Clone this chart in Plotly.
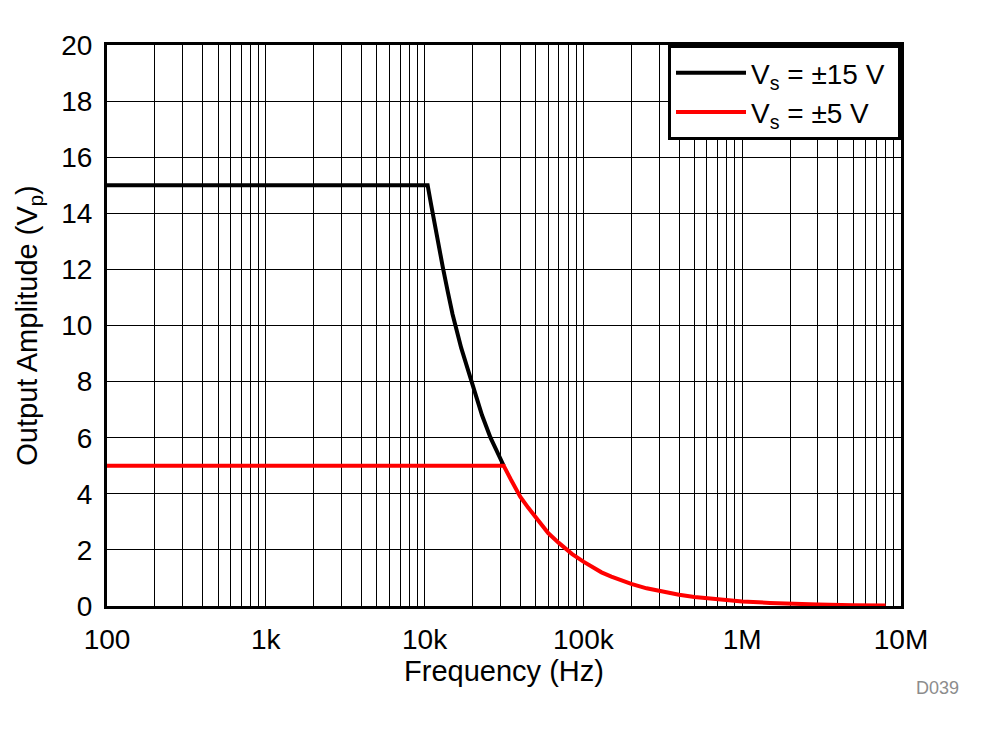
import plotly.graph_objects as go

# values
freq_15 = [100, 10450, 11000, 12000, 13000, 14000, 15000, 17000, 20000,
           23000, 26000, 29000, 31500]
amp_15 = [15, 15, 14.3, 13.1, 12.1, 11.2, 10.4, 9.2, 7.9, 6.8, 6.0, 5.4, 5.0]

freq_5 = [100, 31500, 35000, 40000, 45000, 50000, 60000, 70000, 85000, 100000,
          130000, 150000, 200000, 250000, 300000, 400000, 500000, 700000,
          1e6, 1.5e6, 2e6, 3e6, 5e6, 8e6]
amp_5 = [5, 5, 4.5, 3.9, 3.5, 3.15, 2.6, 2.25, 1.85, 1.58, 1.2, 1.05, 0.79,
         0.63, 0.53, 0.4, 0.32, 0.23, 0.16, 0.11, 0.08, 0.05, 0.03, 0.02]

x_tickvals = [100, 1e3, 1e4, 1e5, 1e6, 1e7]
x_ticktext = ["100", "1k", "10k", "100k", "1M", "10M"]
y_tickvals = list(range(0, 21, 2))

fig = go.Figure()
fig.add_trace(go.Scatter(x=freq_15, y=amp_15, mode="lines",
                         line=dict(color="black", width=4),
                         name="V<sub>s</sub> = ±15 V "))
fig.add_trace(go.Scatter(x=freq_5, y=amp_5, mode="lines",
                         line=dict(color="#ff0000", width=4),
                         name="V<sub>s</sub> = ±5 V"))

fig.update_layout(
    width=982, height=734,
    margin=dict(l=99, r=89, t=37, b=136, autoexpand=False),
    paper_bgcolor="white",
    plot_bgcolor="white",
    font=dict(family="Liberation Sans, Arial, sans-serif", size=24, color="black"),
    showlegend=True,
    legend=dict(x=1, y=1, xanchor="right", yanchor="top",
                bordercolor="black", borderwidth=3, bgcolor="white",
                font=dict(size=28), itemwidth=70, tracegroupgap=0),
    annotations=[dict(text="D039", x=1.075, y=-0.147, xref="paper", yref="paper",
                      xanchor="right", yanchor="middle", showarrow=False,
                      font=dict(size=18, color="#8c8c8c"))],
)

fig.update_xaxes(type="log", range=[2, 7], automargin=False,
                 tickvals=x_tickvals, ticktext=x_ticktext,
                 tickfont=dict(size=28), ticklabelstandoff=6,
                 showgrid=True, gridcolor="black", gridwidth=1,
                 minor=dict(dtick="D1", showgrid=True, gridcolor="black", gridwidth=1),
                 showline=True, linecolor="black", linewidth=3, mirror=True,
                 ticks="", title=dict(text="Frequency (Hz)", standoff=6),
                 zeroline=False)
fig.update_yaxes(range=[0, 20], tickvals=y_tickvals, automargin=False,
                 tickfont=dict(size=28), ticklabelstandoff=6,
                 showgrid=True, gridcolor="black", gridwidth=1,
                 showline=True, linecolor="black", linewidth=3, mirror=True,
                 ticks="", title=dict(text="Output Amplitude (V<sub>p</sub>)", standoff=16),
                 zeroline=False)

fig.write_html("out.html")
